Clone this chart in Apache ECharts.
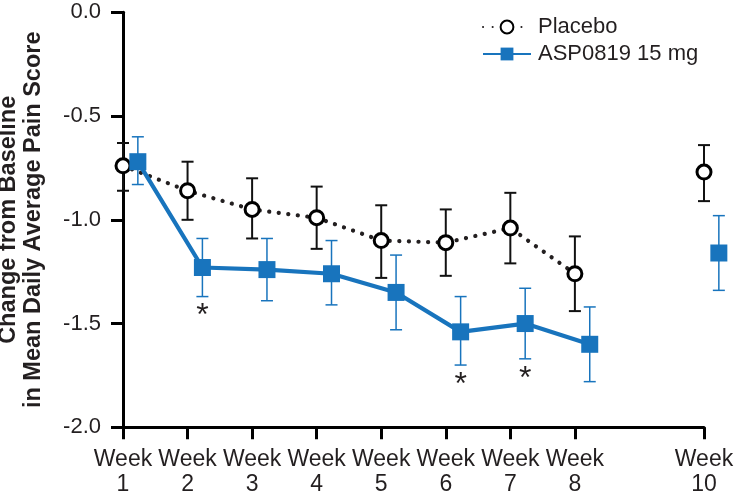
<!DOCTYPE html>
<html>
<head>
<meta charset="utf-8">
<script src="https://cdn.jsdelivr.net/npm/echarts@6/dist/echarts.min.js"></script>
<style>html,body{margin:0;padding:0;background:#fff;}#c{width:735px;height:491px;}</style>
</head>
<body>
<div id="c"></div>
<script>
// ---- data ----
const weeks = [1, 2, 3, 4, 5, 6, 7, 8, 10];
const tickWeeks = [1, 2, 3, 4, 5, 6, 7, 8, 10];
const placeboMean = [-0.74, -0.86, -0.95, -0.99, -1.10, -1.11, -1.04, -1.26, -0.77];
const placeboUpper = [-0.63, -0.72, -0.80, -0.84, -0.93, -0.95, -0.87, -1.08, -0.64];
const placeboLower = [-0.86, -1.00, -1.09, -1.14, -1.28, -1.27, -1.21, -1.44, -0.91];
const aspMean = [-0.72, -1.23, -1.24, -1.26, -1.35, -1.54, -1.50, -1.60, -1.16];
const aspUpper = [-0.60, -1.09, -1.09, -1.10, -1.17, -1.37, -1.33, -1.42, -0.98];
const aspLower = [-0.83, -1.37, -1.39, -1.41, -1.53, -1.70, -1.67, -1.78, -1.34];
const significant = [false, true, false, false, false, true, true, false, false];
const seriesNames = ['Placebo', 'ASP0819 15 mg'];

// ---- presentation ----
const BLUE = '#1874bd';
const INK = '#231f20';
const ASP_SHIFT = 0.23;   // horizontal dodge of the drug group
const FONT = 'Liberation Sans, Arial, Helvetica, sans-serif';

function lineData(xs, ys) {
  const out = [];
  for (let i = 0; i < xs.length; i++) {
    if (i > 0 && weeks[i] - weeks[i - 1] > 1) out.push([xs[i] - 1, '-']);
    out.push([xs[i], ys[i]]);
  }
  return out;
}
const placeboX = weeks.slice();
const aspX = weeks.map(w => w + ASP_SHIFT);

function errorSeries(xs, lo, hi, color, width, cap) {
  return {
    type: 'custom',
    clip: false,
    silent: true,
    z: 1,
    encode: { x: 0, y: [1, 2] },
    data: xs.map((x, i) => [x, lo[i], hi[i]]),
    renderItem: function (params, api) {
      const top = api.coord([api.value(0), api.value(2)]);
      const bot = api.coord([api.value(0), api.value(1)]);
      const st = { stroke: color, lineWidth: width };
      return {
        type: 'group',
        children: [
          { type: 'line', shape: { x1: top[0], y1: top[1], x2: bot[0], y2: bot[1] }, style: st },
          { type: 'line', shape: { x1: top[0] - cap, y1: top[1], x2: top[0] + cap, y2: top[1] }, style: st },
          { type: 'line', shape: { x1: bot[0] - cap, y1: bot[1], x2: bot[0] + cap, y2: bot[1] }, style: st }
        ]
      };
    }
  };
}

const starData = [];
for (let i = 0; i < weeks.length; i++) if (significant[i]) starData.push([aspX[i], aspLower[i]]);

const chart = echarts.init(document.getElementById('c'), null, { renderer: 'canvas' });
chart.setOption({
  animation: false,
  backgroundColor: '#fff',
  textStyle: { fontFamily: FONT },
  grid: { left: 123, right: 31, top: 12.3, bottom: 63.7, containLabel: false, outerBoundsMode: 'none' },
  legend: {
    orient: 'vertical',
    left: 477,
    top: 11,
    itemWidth: 48,
    itemHeight: 16,
    itemGap: 5,
    data: seriesNames,
    textStyle: { fontSize: 22, color: INK, fontFamily: FONT, padding: [0, 0, 0, 2] }
  },
  xAxis: {
    type: 'value',
    min: 1,
    max: 10,
    interval: 1,
    splitLine: { show: false },
    axisLine: { show: true, onZero: false, lineStyle: { color: '#000', width: 3 } },
    axisTick: { show: true, customValues: tickWeeks, length: 12, lineStyle: { color: '#000', width: 3 } },
    axisLabel: {
      customValues: tickWeeks,
      formatter: v => 'Week\n' + v,
      fontSize: 23,
      lineHeight: 25,
      color: INK,
      margin: 20,
      fontFamily: FONT
    }
  },
  yAxis: {
    type: 'value',
    min: -2,
    max: 0,
    interval: 0.5,
    splitLine: { show: false },
    axisLine: { show: true, onZero: false, lineStyle: { color: '#000', width: 3 } },
    axisTick: { show: true, length: 12, lineStyle: { color: '#000', width: 3 } },
    axisLabel: { formatter: v => v.toFixed(1), fontSize: 22, color: INK, margin: 22, fontFamily: FONT },
    name: 'Change from Baseline\nin Mean Daily Average Pain Score',
    nameLocation: 'middle',
    nameRotate: 90,
    nameGap: 77,
    nameTextStyle: { fontSize: 23.5, fontWeight: 'bold', color: INK, lineHeight: 25, fontFamily: FONT, align: 'center' }
  },
  series: [
    errorSeries(placeboX, placeboLower, placeboUpper, '#111', 2, 6),
    errorSeries(aspX, aspLower, aspUpper, BLUE, 1.5, 6),
    {
      name: seriesNames[0],
      type: 'line',
      z: 3,
      clip: false,
      data: lineData(placeboX, placeboMean),
      symbol: 'circle',
      symbolSize: 14,
      showAllSymbol: true,
      itemStyle: { color: '#fff', borderColor: '#000', borderWidth: 3 },
      lineStyle: { color: INK, width: 4.2, type: [0.1, 9.5], cap: 'round' }
    },
    {
      name: seriesNames[1],
      type: 'line',
      z: 4,
      clip: false,
      data: lineData(aspX, aspMean),
      symbol: 'rect',
      symbolSize: 17,
      showAllSymbol: true,
      itemStyle: { color: BLUE },
      lineStyle: { color: BLUE, width: 4.2 }
    },
    {
      type: 'custom',
      clip: false,
      silent: true,
      z: 5,
      encode: { x: 0, y: 1 },
      data: starData,
      renderItem: function (params, api) {
        const p = api.coord([api.value(0), api.value(1)]);
        return {
          type: 'text',
          style: { text: '*', x: p[0], y: p[1] + 4, fontSize: 32, fontFamily: FONT, fill: INK, align: 'center', verticalAlign: 'top' }
        };
      }
    }
  ]
});
</script>
</body>
</html>
